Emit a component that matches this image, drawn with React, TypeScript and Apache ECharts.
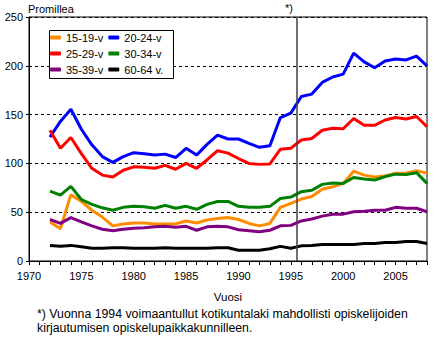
import React, { useEffect, useRef } from "react";
import * as echarts from "echarts";

const years = [
  1972, 1973, 1974, 1975, 1976, 1977, 1978, 1979, 1980, 1981, 1982, 1983, 1984,
  1985, 1986, 1987, 1988, 1989, 1990, 1991, 1992, 1993, 1994, 1995, 1996, 1997,
  1998, 1999, 2000, 2001, 2002, 2003, 2004, 2005, 2006, 2007, 2008,
];

const v15_19 = [40, 33, 68, 61, 52, 45, 36, 38, 39, 39, 38, 38, 38, 41, 39, 42, 43.5, 44.5, 42.5, 38.5, 36, 38.5, 55, 59, 63.5, 66, 73.5, 76, 79.5, 92, 88, 86, 87, 90, 90, 92.5, 90];
const v20_24 = [127, 143, 155.5, 135, 119, 107, 101, 107, 111, 110, 108.5, 109.5, 106, 115.5, 108.5, 119.5, 129, 125, 125, 120.5, 116.5, 118, 147, 151.5, 168.5, 171, 183, 188.5, 191.5, 213, 204, 198, 205, 207, 206, 210, 200];
const v25_29 = [134, 115.5, 126.5, 110, 95, 88, 86, 93, 96.5, 96, 95, 98, 94, 100, 95, 103.5, 113, 110.5, 105, 100, 99, 99.5, 114.5, 115.5, 124, 125.5, 134, 136, 135.5, 146, 139, 139, 144.5, 147, 145.5, 148, 137.5];
const v30_34 = [71.5, 67.5, 76.5, 63, 58, 54.5, 52, 55, 56, 55.5, 54, 57, 54, 56, 53, 58, 61, 61, 56, 55, 55, 56, 64, 65.5, 71, 72.5, 78.5, 80, 79.5, 85.5, 84, 83, 86.5, 89, 88.5, 90.5, 79.5];
const v35_39 = [42.5, 38.5, 44.5, 40, 36, 32.5, 31, 32.5, 33.5, 34, 35, 35.5, 34.5, 35.5, 31.5, 35, 35.5, 35, 32, 31, 30, 31.5, 36, 36.5, 41, 43, 46, 48, 48, 50.5, 51, 52, 52, 55, 54, 54, 50.5];
const v60_64 = [16, 15, 16, 14.5, 13, 13, 13.5, 13.5, 13, 13, 13, 13.5, 13, 13, 13, 13, 13.5, 13.5, 11, 11, 11, 12.5, 15, 13, 15.5, 16, 17, 17, 17, 17, 18, 18, 19, 19, 20, 20, 18];

const seriesNames = ["15-19-v", "20-24-v", "25-29-v", "30-34-v", "35-39-v", "60-64 v."];
const seriesValues = [v15_19, v20_24, v25_29, v30_34, v35_39, v60_64];
const seriesColors = ["#FF8C00", "#0000FF", "#FF0000", "#008000", "#800080", "#000000"];

const markYear = 1995.6;
const yTitle = "Promillea";
const xTitle = "Vuosi";
const markText = "*)";
const footnote =
  "*) Vuonna 1994 voimaantullut kotikuntalaki mahdollisti opiskelijoiden\nkirjautumisen opiskelupaikkakunnilleen.";

const FONT = "'Liberation Sans', Arial, sans-serif";

export default function App() {
  const ref = useRef<HTMLDivElement>(null);
  useEffect(() => {
    document.body.style.margin = "0";
    if (!ref.current) return;
    const chart = echarts.init(ref.current, undefined, { renderer: "svg" });
    const series: any[] = seriesNames.map((name, i) => ({
      name,
      type: "line",
      data: years.map((y, j) => [y, seriesValues[i][j]]),
      showSymbol: false,
      symbol: "none",
      lineStyle: { color: seriesColors[i], width: 3 },
      itemStyle: { color: seriesColors[i] },
      z: 2,
      ...(i === 0
        ? {
            markLine: {
              silent: true,
              symbol: "none",
              label: { show: false },
              lineStyle: { color: "#404040", width: 1.5, type: "solid" },
              data: [{ xAxis: markYear }],
            },
          }
        : {}),
    }));
    const legendRow = (names: string[], top: number) => ({
      data: names,
      left: 50,
      top,
      padding: 0,
      itemGap: 5,
      itemWidth: 11,
      itemHeight: 4,
      icon: "roundRect",
      selectedMode: false,
      textStyle: { fontFamily: FONT, fontSize: 11, color: "#000" },
    });
    chart.setOption({
      animation: false,
      backgroundColor: "#fff",
      grid: {
        left: 29,
        top: 17,
        right: 18,
        bottom: 101,
        show: true,
        borderColor: "#000",
        borderWidth: 1,
        backgroundColor: "transparent",
      },
      legend: [
        legendRow([seriesNames[0], seriesNames[1]], 32),
        legendRow([seriesNames[2], seriesNames[3]], 48),
        legendRow([seriesNames[4], seriesNames[5]], 64),
      ],
      xAxis: {
        type: "value",
        min: 1970,
        max: 2008,
        interval: 5,
        name: xTitle,
        nameLocation: "middle",
        nameGap: 30,
        nameTextStyle: { fontFamily: FONT, fontSize: 11.5, color: "#000" },
        axisLine: { lineStyle: { color: "#000", width: 1 } },
        axisTick: { show: true, length: 4, lineStyle: { color: "#000" } },
        minorTick: { show: true, splitNumber: 5, length: 4, lineStyle: { color: "#000" } },
        splitLine: { show: false },
        axisLabel: {
          fontFamily: FONT,
          fontSize: 11,
          color: "#000",
          margin: 9,
          showMaxLabel: false,
          formatter: (v: number) => String(v),
        },
      },
      yAxis: {
        type: "value",
        min: 0,
        max: 250,
        interval: 50,
        axisLine: { show: true, lineStyle: { color: "#000", width: 1 } },
        axisTick: { show: true, length: 3, lineStyle: { color: "#000" } },
        splitLine: { show: true, lineStyle: { color: "#000", type: [3, 3], width: 1 } },
        axisLabel: { fontFamily: FONT, fontSize: 11, color: "#000", margin: 6 },
      },
      graphic: [
        {
          type: "rect",
          shape: { x: 49.5, y: 30.5, width: 124, height: 48 },
          style: { fill: "#fff", stroke: "#000", lineWidth: 1 },
          z: 3,
        },
        {
          type: "text",
          left: 28,
          top: 3,
          style: { text: yTitle, fontFamily: FONT, fontSize: 11, fill: "#000" },
        },
        {
          type: "text",
          left: 285,
          top: 2,
          style: { text: markText, fontFamily: FONT, fontSize: 11, fill: "#000" },
        },
        {
          type: "text",
          left: 37,
          top: 307,
          style: {
            text: footnote,
            fontFamily: FONT,
            fontSize: 12.3,
            lineHeight: 14,
            fill: "#000",
          },
        },
      ],
      series,
    });
    return () => chart.dispose();
  }, []);
  return <div ref={ref} style={{ width: 445, height: 362 }} />;
}
